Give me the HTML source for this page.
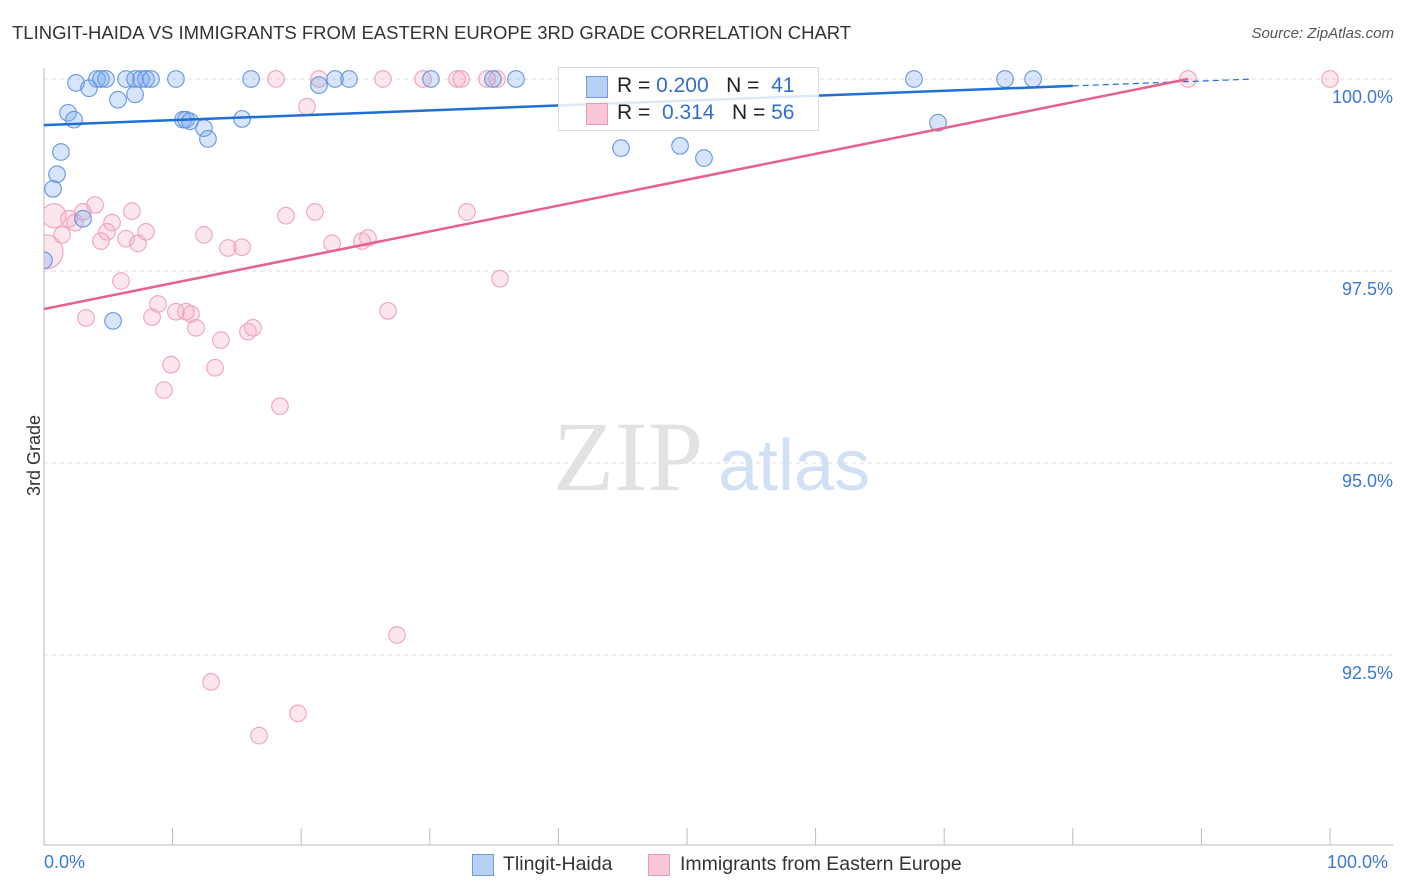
<!DOCTYPE html>
<html><head><meta charset="utf-8">
<style>
body{margin:0;background:#fff;font-family:"Liberation Sans",sans-serif;}
#wrap{position:relative;width:1406px;height:892px;overflow:hidden;}
.t{position:absolute;white-space:nowrap;}
</style></head><body>
<div id="wrap">
<div class="t" style="left:12px;top:22px;font-size:18.5px;color:#333;">TLINGIT-HAIDA VS IMMIGRANTS FROM EASTERN EUROPE 3RD GRADE CORRELATION CHART</div>
<div class="t" style="right:12px;top:25px;font-size:15px;color:#555;font-style:italic;">Source: ZipAtlas.com</div>
<svg id="svg" width="1406" height="892" style="position:absolute;left:0;top:0"><defs><clipPath id="pc"><rect x="44" y="60" width="1360" height="785"/></clipPath></defs></svg>
</div>
<script>
const blueX=[2.49,3.50,4.12,4.43,4.82,6.38,7.08,7.54,7.93,8.32,10.26,16.10,21.38,22.63,23.72,30.09,34.91,36.70,67.65,74.73,76.91,1.87,2.33,5.75,7.08,1.32,1.01,0.70,3.03,0,5.37,10.81,11.04,11.35,12.44,12.75,15.40,44.87,49.46,51.32,69.52];
const blueY=[99.95,99.88,100,100,100,100,100,100,100,100,100,100,99.92,100,100,100,100,100,100,100,100,99.56,99.47,99.73,99.80,99.05,98.76,98.57,98.18,97.64,96.85,99.47,99.47,99.45,99.36,99.22,99.48,99.10,99.13,98.97,99.43];
const pinkX=[18.04,21.38,26.36,29.47,32.12,32.43,34.45,35.23,88.96,100,20.45,0.78,0.16,1.40,1.94,2.41,3.03,3.97,5.29,4.90,4.43,6.38,7.31,6.84,7.93,12.44,14.31,15.40,18.82,21.07,22.40,24.73,25.19,32.89,35.46,5.99,3.27,8.86,8.40,10.26,11.04,11.43,11.82,13.76,15.86,16.25,26.75,9.88,13.30,9.33,18.35,27.45,12.99,19.75,16.72];
const pinkY=[100,100,100,100,100,100,100,100,100,100,99.64,98.22,97.75,97.97,98.18,98.13,98.27,98.36,98.13,98.01,97.89,97.92,97.86,98.28,98.01,97.97,97.80,97.81,98.22,98.27,97.86,97.89,97.93,98.27,97.40,97.37,96.89,97.07,96.90,96.97,96.97,96.94,96.76,96.60,96.71,96.76,96.98,96.28,96.24,95.95,95.74,92.76,92.15,91.74,91.45];
const pinkBig={11:12,12:17};
const yTicks=[100,97.5,95,92.5];
const yTickLabels=["100.0%","97.5%","95.0%","92.5%"];
const blueTrend=[99.40,99.91];
const pinkTrend=[97.005,100];
const xs=v=>44+v*12.86;
const ys=v=>79+(100-v)*76.8;
const svg=document.getElementById('svg');
const NS='http://www.w3.org/2000/svg';
function mk(tag,a,p){const e=document.createElementNS(NS,tag);for(const k in a)e.setAttribute(k,a[k]);(p||svg).appendChild(e);return e;}
yTicks.forEach((t,i)=>{
 const g=mk('line',{x1:44,x2:1393,y1:ys(t),y2:ys(t),stroke:'#ddd','stroke-dasharray':'4,4'});
 
 
 const tx=mk('text',{x:1393,y:ys(t)+24,'text-anchor':'end','font-size':18,fill:'#3b78d8','font-family':'Liberation Sans'});
 tx.textContent=yTickLabels[i];
 
 
});
mk('line',{x1:44,x2:44,y1:68,y2:845,stroke:'#bbb'});
mk('line',{x1:44,x2:1393,y1:845,y2:845,stroke:'#bbb'});
for(let i=0;i<=10;i++){const l=mk('line',{x1:xs(i*10),x2:xs(i*10),y1:828,y2:845,stroke:'#bbb'});
 
 }
let w=mk('text',{x:553,y:490,'font-size':100,fill:'#e2e2e2','font-family':'Liberation Serif'});w.textContent='ZIP';


w=mk('text',{x:718,y:490,'font-size':72,fill:'#d0e0f5','font-family':'Liberation Sans'});w.textContent='atlas';


const pg=mk('g',{'clip-path':'url(#pc)'});
pinkX.forEach((x,i)=>{const c=mk('circle',{cx:xs(x),cy:ys(pinkY[i]),r:pinkBig[i]||8.3,fill:'rgba(245,165,192,0.28)',stroke:'#f0a2bb','stroke-width':1.1},pg);
 
 });
blueX.forEach((x,i)=>{const c=mk('circle',{cx:xs(x),cy:ys(blueY[i]),r:8.3,fill:'rgba(120,168,238,0.3)',stroke:'#6595e0','stroke-width':1.1},pg);
 
 });
let l=mk('line',{x1:xs(0),y1:ys(blueTrend[0]),x2:xs(80),y2:ys(blueTrend[1]),stroke:'#1f6fd6','stroke-width':2.5});


const bs=(blueTrend[1]-blueTrend[0])/80;
mk('line',{x1:xs(80),y1:ys(blueTrend[1]),x2:xs(94),y2:ys(blueTrend[1]+bs*14),stroke:'#1f6fd6','stroke-width':1.2,'stroke-dasharray':'6,4'});
l=mk('line',{x1:xs(0),y1:ys(pinkTrend[0]),x2:xs(88.96),y2:ys(pinkTrend[1]),stroke:'#e8608e','stroke-width':2.5});


</script>
<div class="t" style="left:-6px;top:445px;font-size:18px;color:#333;transform:rotate(-90deg);transform-origin:center;">3rd Grade</div>
<div class="t" style="left:44px;top:852px;font-size:18px;color:#3b78d8;">0.0%</div>
<div class="t" style="left:1327px;top:852px;font-size:18px;color:#3b78d8;">100.0%</div>
<div style="position:absolute;left:558px;top:67px;width:259px;height:62px;border:1px solid #ddd;background:rgba(255,255,255,0.85);font-size:21px;color:#222;">
 <div style="position:absolute;left:27px;top:8px;width:20px;height:20px;background:#b7d0f5;border:1px solid #6d9be0;"></div>
 <div class="t" style="left:58px;top:6px;">R = <span style="color:#2f6fd0">0.200</span>&nbsp;&nbsp;&nbsp;N = &nbsp;<span style="color:#2f6fd0">41</span></div>
 <div style="position:absolute;left:27px;top:35px;width:20px;height:20px;background:#f9c7d6;border:1px solid #ee9ab4;"></div>
 <div class="t" style="left:58px;top:33px;">R = &nbsp;<span style="color:#2f6fd0">0.314</span>&nbsp;&nbsp;&nbsp;N = <span style="color:#2f6fd0">56</span></div>
</div>
<div style="position:absolute;left:472px;top:853px;font-size:19.5px;color:#333;">
 <div style="position:absolute;left:0;top:1px;width:20px;height:20px;background:#b7d0f5;border:1px solid #6d9be0;"></div>
 <div class="t" style="left:31px;top:0;">Tlingit-Haida</div></div>
<div style="position:absolute;left:648px;top:853px;font-size:19.5px;color:#333;">
 <div style="position:absolute;left:0;top:1px;width:20px;height:20px;background:#f9c7d6;border:1px solid #ee9ab4;"></div>
 <div class="t" style="left:32px;top:0;">Immigrants from Eastern Europe</div></div>
</body></html>
